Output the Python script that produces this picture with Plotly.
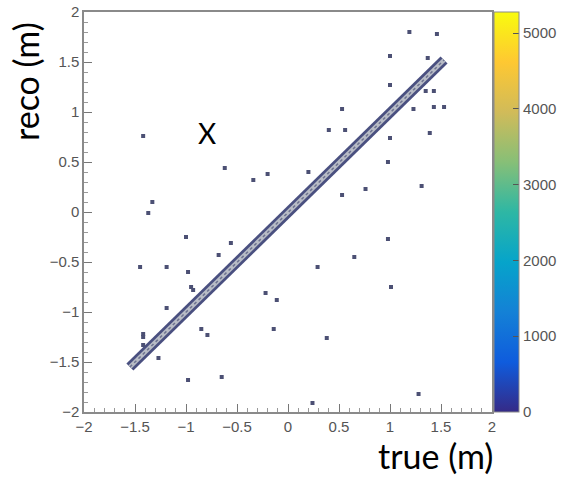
import plotly.graph_objects as go

# ---- data ----
# main diagonal band (true == reco), end points
diag_true = [-1.55, 1.53]
diag_reco = [-1.55, 1.52]

# isolated single-count entries (true, reco)
out_true = [-1.42, -0.62, -0.34, -0.20, -1.33, -1.37, -1.00,
            1.19, 1.46, 1.00, 1.37, 1.00, 1.35, 1.43, 0.53, 1.23, 1.43, 1.53,
            0.40, 0.56, 1.39, 1.00, 0.98, 0.20, 0.53, 0.76, 1.31, 0.98,
            -1.45, -1.19, -0.98, -0.95, -0.93, -0.68, -0.56, -1.19, -1.42, -1.42,
            -1.42, -0.85, -0.79, -1.27, -0.98, -0.65, -0.22, -0.11, -0.14,
            0.29, 0.65, 1.01, 0.38, 1.28, 0.24]
out_reco = [0.76, 0.44, 0.32, 0.38, 0.10, -0.01, -0.25,
            1.80, 1.78, 1.56, 1.54, 1.27, 1.21, 1.21, 1.03, 1.03, 1.05, 1.05,
            0.82, 0.82, 0.79, 0.74, 0.50, 0.40, 0.17, 0.23, 0.26, -0.27,
            -0.55, -0.55, -0.60, -0.75, -0.78, -0.43, -0.31, -0.96, -1.22, -1.25,
            -1.33, -1.17, -1.23, -1.46, -1.68, -1.65, -0.81, -0.88, -1.17,
            -0.55, -0.45, -0.75, -1.26, -1.82, -1.91]

z_range = [0, 5280]
cbar_ticks = [0, 1000, 2000, 3000, 4000, 5000]
axis_ticks = [-2, -1.5, -1, -0.5, 0, 0.5, 1, 1.5, 2]
axis_ticktext = ["\u22122", "\u22121.5", "\u22121", "\u22120.5", "0", "0.5", "1", "1.5", "2"]

# ROOT kBird palette
bird = [
    [0.000, "#352a87"], [0.125, "#0f5cdd"], [0.250, "#1481d6"],
    [0.375, "#06a4ca"], [0.500, "#2eb7a4"], [0.625, "#87bf77"],
    [0.750, "#d1bb59"], [0.875, "#fec832"], [1.000, "#f9fb0e"],
]

fig = go.Figure()

# diagonal band: dark outer edge, light core, chain texture
fig.add_trace(go.Scatter(x=diag_true, y=diag_reco, mode="lines",
                         line=dict(color="#4a5080", width=10), hoverinfo="skip", showlegend=False))
fig.add_trace(go.Scatter(x=diag_true, y=diag_reco, mode="lines",
                         line=dict(color="#b8bcc6", width=4.5), hoverinfo="skip", showlegend=False))
fig.add_trace(go.Scatter(x=diag_true, y=diag_reco, mode="lines",
                         line=dict(color="#6e7390", width=1.5, dash="dot"), hoverinfo="skip", showlegend=False))

# isolated entries
fig.add_trace(go.Scatter(x=out_true, y=out_reco, mode="markers",
                         marker=dict(symbol="square", size=4, color="#4c5074",
                                     line=dict(width=0)),
                         showlegend=False))

# colour scale
fig.add_trace(go.Scatter(x=[None, None], y=[None, None], mode="markers",
                         marker=dict(color=z_range, colorscale=bird, cmin=z_range[0], cmax=z_range[1],
                                     showscale=True,
                                     colorbar=dict(x=1.0, xanchor="left", xpad=2, thickness=25,
                                                   len=1.0, lenmode="fraction", y=0.5, yanchor="middle",
                                                   ypad=0, outlinewidth=1, outlinecolor="#8a8a8a",
                                                   tickvals=cbar_ticks, ticks="inside", ticklen=6,
                                                   tickcolor="#555555",
                                                   tickfont=dict(family="Liberation Sans", size=15, color="#555555"))),
                         showlegend=False, hoverinfo="skip"))

axis_common = dict(range=[-2, 2], tickvals=axis_ticks, ticktext=axis_ticktext,
                   ticks="inside", ticklen=8, tickcolor="#777777",
                   showline=True, linecolor="#8a8a8a", linewidth=1.5, mirror=True,
                   showgrid=False, zeroline=False,
                   tickfont=dict(family="Liberation Sans", size=15, color="#555555"),
                   minor=dict(ticks="inside", ticklen=4, dtick=0.1, tickcolor="#999999", showgrid=False))

fig.update_xaxes(**axis_common)
fig.update_yaxes(**axis_common)

fig.update_layout(
    width=562, height=480,
    margin=dict(l=84, r=70, t=12, b=68, autoexpand=False),
    plot_bgcolor="white", paper_bgcolor="white",
    annotations=[
        dict(text="reco (m)", xref="paper", yref="paper", x=-0.1446, y=0.825,
             textangle=-90, showarrow=False, font=dict(family="Lato", size=34, color="black"),
             xanchor="center", yanchor="middle"),
        dict(text="true (m)", xref="paper", yref="paper", x=0.862, y=-0.1075,
             showarrow=False, font=dict(family="Lato", size=34, color="black"),
             xanchor="center", yanchor="middle"),
        dict(text="X", xref="paper", yref="paper", x=0.301, y=0.6975,
             showarrow=False, font=dict(family="Lato", size=28, color="black"),
             xanchor="center", yanchor="middle"),
    ],
)

fig.write_html("out.html")
